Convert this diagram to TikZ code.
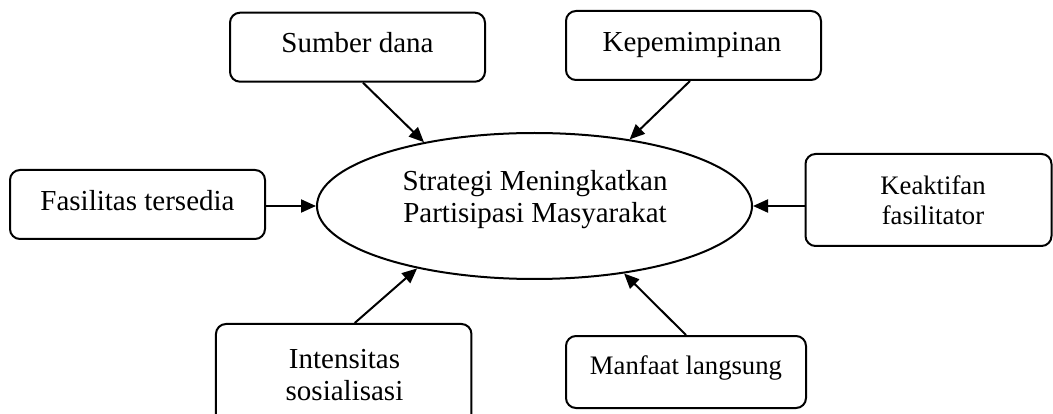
\documentclass[tikz,border=0pt]{standalone}
\usepackage{fontspec}
\setmainfont{Liberation Serif}
\usetikzlibrary{arrows.meta,shapes.geometric}
\begin{document}
\begin{tikzpicture}[x=1pt,y=-1pt,
  box/.style={draw,line width=2pt,rounded corners=10pt,inner sep=0pt},
  oval/.style={draw,ellipse,line width=2pt,inner sep=0pt},
  txt/.style={inner sep=0pt,font=\fontsize{29}{32}\selectfont,align=center},
  txts/.style={inner sep=0pt,font=\fontsize{26.7}{30.5}\selectfont,align=center},
  conn/.style={line width=2pt,-{Triangle[length=15pt,width=13pt]}}]
\useasboundingbox (0,0) rectangle (1053,414);
% shapes
\node[box,minimum width=255pt,minimum height=69pt] (sd) at (357.5,47.2) {};
\node[box,minimum width=255pt,minimum height=69pt] (kp) at (693.5,45.5) {};
\node[box,minimum width=255pt,minimum height=69pt] (fs) at (137.5,204.5) {};
\node[box,minimum width=246pt,minimum height=92pt] (kf) at (928.5,200) {};
\node[box,minimum width=255.5pt,minimum height=106pt] (is) at (343.7,377) {};
\node[box,minimum width=240pt,minimum height=72pt] (mf) at (686,372) {};
\node[oval,minimum width=435pt,minimum height=146pt] (el) at (534.5,206) {};
% texts
\node[txt,anchor=base] (sdt) at (357.5,53) {Sumber dana};
\node[txt,anchor=base] (kpt) at (692,52) {Kepemimpinan};
\node[txt,anchor=base] (fst) at (137.5,211) {Fasilitas tersedia};
\node[txt,anchor=base] (elt) at (535,223) {Strategi Meningkatkan\\Partisipasi Masyarakat};
\node[txts,anchor=base] (kft) at (933,225) {Keaktifan\\fasilitator};
\node[txt,anchor=base] (ist) at (344.5,400) {Intensitas\\sosialisasi};
\node[txts,anchor=base] (mft) at (686,374) {Manfaat langsung};
% connectors
\draw[conn] ([xshift=5.5pt]sd.south) -- (el.150);
\draw[conn] ([xshift=-3.5pt]kp.south) -- (el.35);
\draw[conn] (fs.east |- el.west) -- (el.west);
\draw[conn] (kf.west |- el.east) -- (el.east);
\draw[conn] ([xshift=11pt]is.north) -- (el.208);
\draw[conn] (mf.north) -- (el.323.5);
\end{tikzpicture}
\end{document}
